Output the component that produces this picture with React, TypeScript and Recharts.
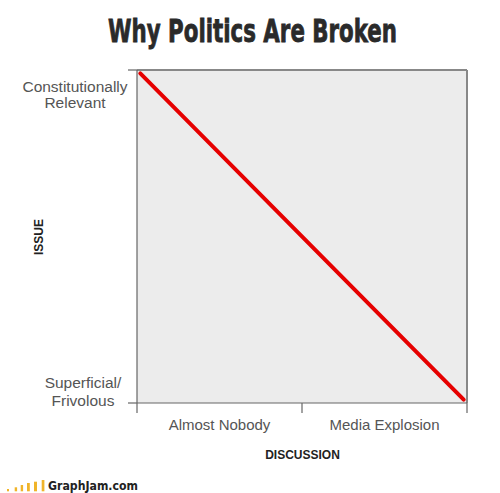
import React from 'react';
import { LineChart, Line, XAxis, YAxis, CartesianGrid, ReferenceLine } from 'recharts';

const discussionTicks = [0, 1, 2];
const discussionLabelTicks = [0.5, 1.5];
const discussionLabels = ['Almost Nobody', 'Media Explosion'];
const issueTicks = [0, 1];
const issueLabels = [['Superficial/', 'Frivolous'], ['Constitutionally', 'Relevant']];
const discussionValues = [0.02, 1.98];
const issueValues = [0.99, 0.01];

const data = discussionValues.map((d, i) => ({ discussion: d, issue: issueValues[i] }));

const FONT = 'Liberation Sans, Arial, Helvetica, sans-serif';

const YTick = (props: any) => {
  const { x, y, payload } = props;
  const lines = issueLabels[payload.value] || [];
  const isTop = payload.value === 1;
  const cx = isTop ? x - 51 : x - 43;
  const base = isTop ? [22, 38] : [-15, 3];
  return (
    <g>
      {lines.map((l: string, i: number) => (
        <text key={i} x={cx} y={y + base[i]} textAnchor="middle" fontFamily={FONT} fontSize={15.5} fill="#555">
          {l}
        </text>
      ))}
    </g>
  );
};

const XLabelTick = (props: any) => {
  const { x, y, payload } = props;
  const idx = discussionLabelTicks.indexOf(payload.value);
  return (
    <text x={x} y={y + 17} textAnchor="middle" fontFamily={FONT} fontSize={15} fill="#555">
      {discussionLabels[idx]}
    </text>
  );
};

const logoBars = [
  [7, 489, 2],
  [14.7, 487.3, 2.4],
  [20.7, 485, 2.4],
  [27, 483, 2.8],
  [34, 481.7, 3],
  [41.7, 480, 2.7],
];

export default function App() {
  return (
    <div style={{ position: 'absolute', left: 0, top: 0, width: 500, height: 493, background: '#fff' }}>
      <LineChart width={500} height={493} data={data} margin={{ top: 70, right: 33, left: 0, bottom: 0 }}>
        <CartesianGrid horizontal={false} vertical={false} fill="#ececec" />
        <XAxis
          xAxisId={0}
          dataKey="discussion"
          type="number"
          domain={[0, 2]}
          allowDataOverflow
          ticks={discussionTicks}
          tickSize={10}
          tickFormatter={() => ''}
          height={10}
          stroke="#666"
          axisLine={{ stroke: '#666', strokeWidth: 1.2 }}
          tickLine={{ stroke: '#666', strokeWidth: 1.2 }}
        />
        <XAxis
          xAxisId="lab"
          dataKey="discussion"
          type="number"
          domain={[0, 2]}
          allowDataOverflow
          ticks={discussionLabelTicks}
          tickLine={false}
          axisLine={false}
          tickSize={0}
          tickMargin={0}
          height={80}
          tick={<XLabelTick />}
        />
        <YAxis
          type="number"
          domain={[0, 1]}
          allowDataOverflow
          ticks={issueTicks}
          width={137}
          tickSize={9}
          tick={<YTick />}
          axisLine={{ stroke: '#666', strokeWidth: 1.2 }}
          tickLine={{ stroke: '#666', strokeWidth: 1.2 }}
        />
        <ReferenceLine y={1} stroke="#888" strokeWidth={2} ifOverflow="visible" />
        <ReferenceLine x={2} stroke="#888" strokeWidth={2} ifOverflow="visible" />
        <Line
          dataKey="issue"
          type="linear"
          stroke="#e60000"
          strokeWidth={4}
          strokeLinecap="round"
          dot={false}
          isAnimationActive={false}
        />
      </LineChart>
      <svg width={500} height={493} style={{ position: 'absolute', left: 0, top: 0, pointerEvents: 'none' }}>
        <text
          x={252.5}
          y={42}
          textAnchor="middle"
          fontFamily="DejaVu Sans Condensed, DejaVu Sans, sans-serif"
          fontWeight="bold"
          fontSize={32}
          fill="#2a2a2a"
          stroke="#2a2a2a"
          strokeWidth={0.8}
          textLength={289}
          lengthAdjust="spacingAndGlyphs"
        >
          Why Politics Are Broken
        </text>
        <text
          x={43}
          y={237}
          transform="rotate(-90 43 237)"
          textAnchor="middle"
          fontFamily={FONT}
          fontWeight="bold"
          fontSize={12}
          fill="#222"
        >
          ISSUE
        </text>
        <text x={302.5} y={459} textAnchor="middle" fontFamily={FONT} fontWeight="bold" fontSize={12} fill="#222">
          DISCUSSION
        </text>
        {logoBars.map(([bx, by, bw], i) => (
          <rect key={i} x={bx} y={by} width={bw} height={491.3 - by} fill="#f0b429" />
        ))}
        <text
          x={48}
          y={489.5}
          fontFamily="DejaVu Sans, sans-serif"
          fontWeight="bold"
          fontSize={11.5}
          fill="#222"
          textLength={90}
          lengthAdjust="spacingAndGlyphs"
        >
          GraphJam.com
        </text>
      </svg>
    </div>
  );
}
